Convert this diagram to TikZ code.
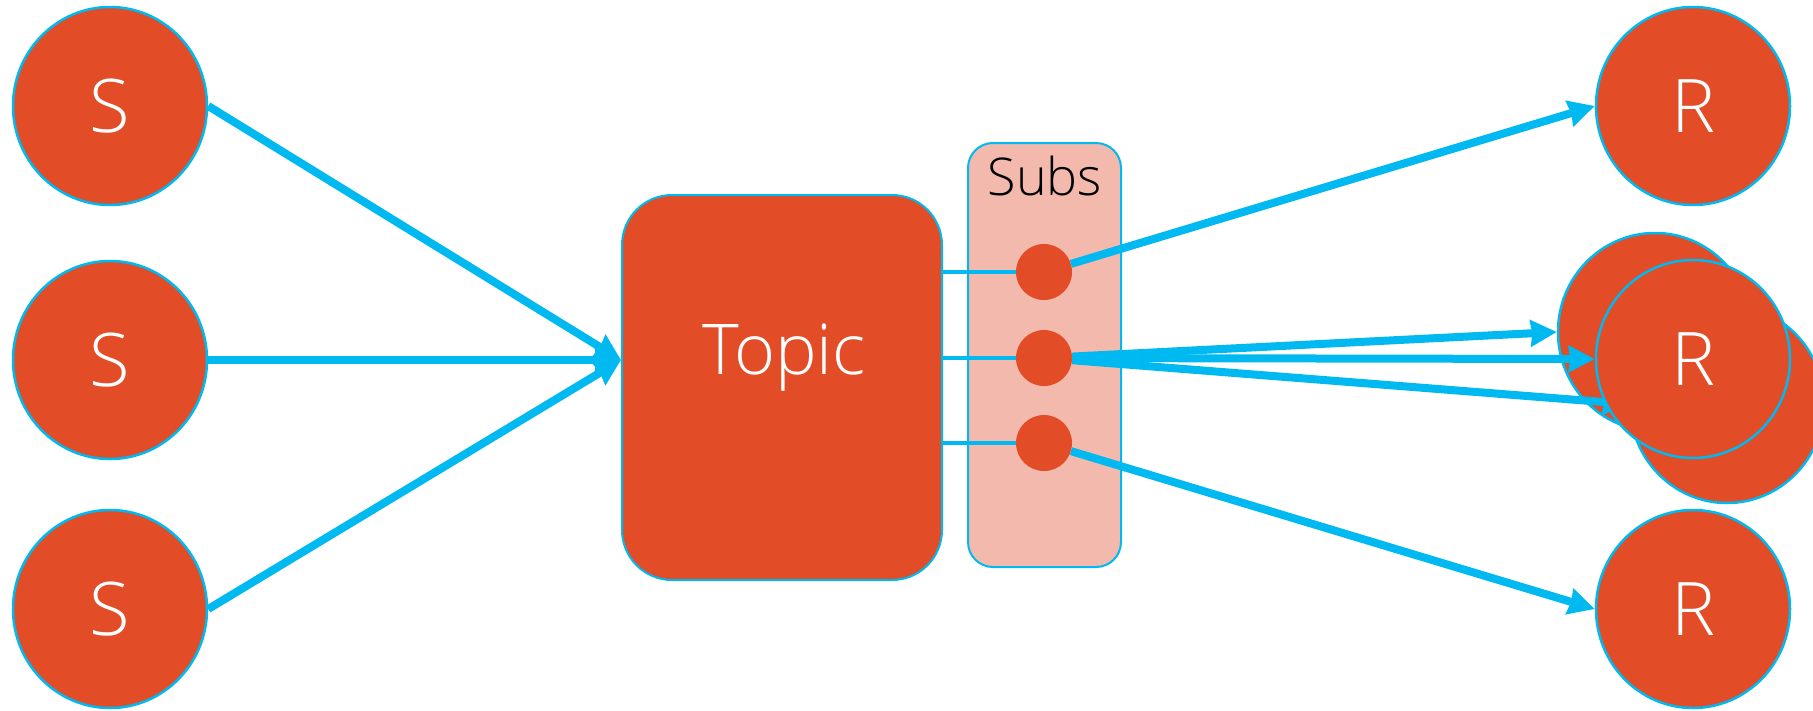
\documentclass[tikz,border=0pt]{standalone}
\usepackage{fontspec}
\setmainfont{Open Sans}[UprightFont={* Light}]
\usetikzlibrary{shapes.geometric,arrows.meta}
\definecolor{nodeorange}{HTML}{E24C27}
\definecolor{linkcyan}{HTML}{00B9F1}
\definecolor{subsfill}{HTML}{F4B9AD}
\tikzset{
  peer/.style={ellipse, fill=nodeorange, draw=linkcyan, line width=2.5pt,
    minimum width=194pt, minimum height=198pt, inner sep=0pt,
    text=white, font=\fontsize{74}{74}\selectfont},
  dotnode/.style={circle, fill=nodeorange, minimum size=56pt, inner sep=0pt},
  feed/.style={draw=linkcyan, line width=4pt},
  flow/.style={draw=linkcyan, line width=8pt,
    -{Stealth[length=26pt, width=26pt, inset=1.5pt]}},
}
\begin{document}
\begin{tikzpicture}[x=1pt, y=-1pt]
  \useasboundingbox (0,0) rectangle (1813,710);

  % publishers
  \node[peer] (s1) at (110,106) {S};
  \node[peer] (s2) at (110,360) {S};
  \node[peer] (s3) at (110,609) {S};

  % topic
  \node[rectangle, rounded corners=50pt, fill=nodeorange, draw=linkcyan,
    line width=2pt, minimum width=320pt, minimum height=385pt, inner sep=0pt]
    (topic) at (782,387.5) {};
  \node[text=white, font=\fontsize{70}{70}\selectfont] (topiclabel) at (784,358) {Topic};
  \coordinate (tin) at (topic.west |- s2.east);

  % subscriptions panel
  \node[rectangle, rounded corners=25pt, fill=subsfill, draw=linkcyan,
    line width=2pt, minimum width=153pt, minimum height=424pt, inner sep=0pt]
    (subs) at (1044.5,355) {};
  \node[anchor=base, font=\fontsize{52}{52}\selectfont] (subslabel) at (1045,195) {Subs};

  % receivers
  \node[peer] (r1) at (1693,106) {R};
  \node[peer] (r2b) at (1655,332) {};
  \node[peer] (r2c) at (1727,404) {};
  \node[peer] (r3) at (1693,609) {R};

  % subscription dots and feed lines
  \coordinate (d1p) at (1044,272);
  \coordinate (d2p) at (1044,358);
  \coordinate (d3p) at (1044,443);
  \draw[feed] (topic.east |- d1p) -- (d1p);
  \draw[feed] (topic.east |- d2p) -- (d2p);
  \draw[feed] (topic.east |- d3p) -- (d3p);
  \node[dotnode] (d1) at (d1p) {};
  \node[dotnode] (d2) at (d2p) {};
  \node[dotnode] (d3) at (d3p) {};

  % publishing flows
  \draw[flow] (s1.east) -- (tin);
  \draw[flow] (s2.east) -- (tin);
  \draw[flow] (s3.east) -- (tin);

  % delivery flows
  \draw[flow] (d1) -- (r1.west);
  \draw[flow] (d2) -- (r2b.west);
  \draw[flow] (d2) -- (r2c.west);

  \node[peer] (r2) at (1693,359) {R};
  \draw[flow] (d2) -- (r2.west);
  \draw[flow] (d3) -- (r3.west);
\end{tikzpicture}
\end{document}
